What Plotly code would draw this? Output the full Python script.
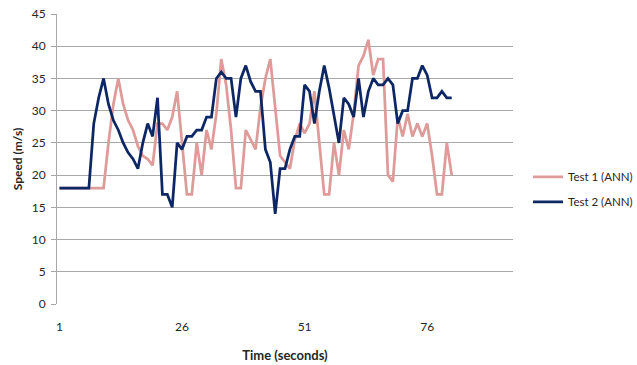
import plotly.graph_objects as go

time_s = list(range(1, 82))

test1_ann = [18, 18, 18, 18, 18, 18, 18, 18, 18, 18,
             25, 31, 35, 31, 28.5, 27, 24.5, 23, 22.5, 21.5,
             28, 28, 27, 29, 33, 25, 17, 17, 25, 20,
             27, 24, 29.5, 38, 34, 27, 18, 18, 27, 25.5,
             24, 30.5, 35, 38, 30, 23, 22, 21, 25.5, 28,
             26.5, 28, 33, 25, 17, 17, 25, 20, 27, 24,
             29.5, 37, 38.5, 41, 35.5, 38, 38, 20, 19, 29,
             26, 29.5, 26, 28, 26, 28, 23, 17, 17, 25,
             20]

test2_ann = [18, 18, 18, 18, 18, 18, 18, 28, 32, 35,
             31, 28.5, 27, 25, 23.5, 22.5, 21, 25, 28, 26,
             32, 17, 17, 15, 25, 24, 26, 26, 27, 27,
             29, 29, 35, 36, 35, 35, 29, 35, 37, 34.5,
             33, 33, 24, 22, 14, 21, 21, 24, 26, 26,
             34, 33, 28, 33, 37, 33.5, 29, 25, 32, 31,
             29, 35, 29, 33, 35, 34, 34, 35, 34, 28,
             30, 30, 35, 35, 37, 35.5, 32, 32, 33, 32,
             32]

x_tick_vals = [1, 26, 51, 76]
y_tick_vals = [0, 5, 10, 15, 20, 25, 30, 35, 40, 45]

FONT = "Lato, 'Open Sans', sans-serif"
TXT = "#262626"

fig = go.Figure()
fig.add_trace(go.Scatter(x=time_s, y=test1_ann, mode="lines", name="Test 1 (ANN)",
                         legendgroup="a",
                         line=dict(color="#DE9B99", width=2.75)))
fig.add_trace(go.Scatter(x=time_s, y=test2_ann, mode="lines", name="Test 2 (ANN)",
                         legendgroup="b",
                         line=dict(color="#0D2765", width=2.75)))

fig.update_layout(
    width=637, height=365,
    margin=dict(l=57, r=124, t=14, b=61, autoexpand=False),
    paper_bgcolor="white", plot_bgcolor="white",
    font=dict(family=FONT, size=12, color=TXT),
    showlegend=True,
    legend=dict(x=1.0329, xanchor="left", y=0.488, yanchor="top",
                tracegroupgap=6, font=dict(size=11.5, color=TXT),
                bgcolor="rgba(0,0,0,0)"),
    xaxis=dict(range=[0.5, 93.5], tickmode="array", tickvals=x_tick_vals,
               ticktext=[str(v) for v in x_tick_vals],
               showgrid=False, zeroline=False, showline=False, automargin=False,
               ticks="", ticklabelstandoff=14,
               title=dict(text="<b>Time (seconds)</b>", font=dict(size=13, color=TXT), standoff=17)),
    yaxis=dict(range=[0, 45], tickmode="array", tickvals=y_tick_vals,
               showgrid=True, gridcolor="#A8A8A8", gridwidth=1, automargin=False,
               zeroline=False, showline=True, linecolor="#A8A8A8", linewidth=1,
               ticks="outside", ticklen=5, tickcolor="#A8A8A8", ticklabelstandoff=3,
               title=dict(text="<b>Speed (m/s)</b>", font=dict(size=12, color=TXT), standoff=6)),
)

fig.write_html("out.html",
               config={"displayModeBar": False},
               post_script="document.body.style.margin='0';document.body.style.overflow='hidden';")
